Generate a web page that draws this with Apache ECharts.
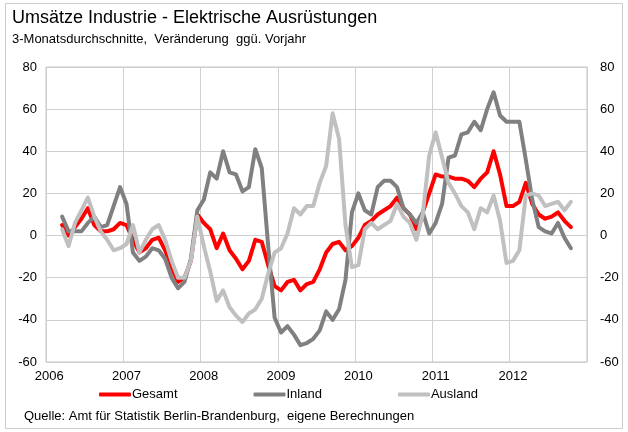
<!DOCTYPE html>
<html>
<head>
<meta charset="utf-8">
<script src="https://cdn.jsdelivr.net/npm/echarts@6/dist/echarts.min.js"></script>
<style>
  html, body { margin: 0; padding: 0; background: #fff; }
  #main { width: 628px; height: 432px; }
</style>
</head>
<body>
<div id="main"></div>
<script>
// Jahre / Monate der x-Achse
var years = ['2006', '2007', '2008', '2009', '2010', '2011', '2012'];
var months = ['01', '02', '03', '04', '05', '06', '07', '08', '09', '10', '11', '12'];
// erster Wert = März 2006 (Index 2), letzter = Oktober 2012
var startIndex = 2;

// Veränderung ggü. Vorjahr in %, 3-Monatsdurchschnitte
var gesamt = [
    5, 0, 4, 8, 13, 5, 2, 2, 3, 6,          // 2006 Mär-Dez
    5, -2, -8, -6, -2, -1, -7, -15, -22, -20, -12, 10,   // 2007
    6, 3, -6, 1, -7, -11, -16, -12, -2, -3, -14, -24,    // 2008
    -26, -22, -21, -26, -23, -22, -16, -8, -4, -3, -7, -5, // 2009
    -1, 5, 7, 10, 12, 14, 18, 13, 10, 3, 11, 20,         // 2010
    29, 28, 28, 27, 27, 26, 23, 27, 30, 40, 29, 14,      // 2011
    14, 16, 25, 15, 10, 8, 9, 11, 7, 4                   // 2012 Jan-Okt
];
var inland = [
    9, 2, 2, 2, 6, 9, 4, 5, 14, 23,
    15, -8, -12, -10, -6, -7, -11, -20, -25, -22, -11, 12,
    17, 30, 27, 40, 30, 29, 21, 23, 41, 32, -5, -39,
    -46, -43, -47, -52, -51, -49, -45, -36, -40, -35, -21, 11,
    20, 12, 10, 23, 26, 26, 23, 13, 10, 6, 11, 1,
    6, 15, 37, 38, 48, 49, 54, 50, 60, 68, 57, 54,
    54, 54, 36, 17, 4, 2, 1, 6, -1, -6
];
var ausland = [
    3, -5, 6, 12, 18, 9, 2, -2, -7, -6,
    -4, 5, -8, -2, 3, 5, -2, -12, -20, -20, -12, 9,
    -5, -17, -31, -26, -34, -38, -41, -37, -35, -30, -18, -8,
    -6, 1, 13, 10, 14, 14, 25, 33, 58, 46, 5, -15,
    -14, 3, 6, 3, 5, 7, 15, 9, 6, -2, 10, 38,
    49, 37, 25, 20, 14, 11, 3, 13, 11, 19, 7, -13,
    -12, -7, 19, 20, 19, 14, 15, 16, 12, 16
];

window.onload = function () {
    drawChart();
};

// Werte auf die 84 Monate der Achse verteilen (vorher/nachher leer)
function pad(arr, total) {
    var out = [];
    for (var i = 0; i < total; i++) {
        var k = i - startIndex;
        out.push(k >= 0 && k < arr.length ? arr[k] : null);
    }
    return out;
}

function drawChart() {
    var categories = [];
    years.forEach(function (y) {
        months.forEach(function (m) { categories.push(y + '-' + m); });
    });

    var font = '"Liberation Sans", Arial, sans-serif';
    var gridColor = '#cfcfcf';

    var myChart = echarts.init(document.getElementById('main'));

    var yAxisBase = {
        type: 'value',
        min: -60,
        max: 80,
        interval: 20,
        axisLine: { show: false },
        axisTick: { show: false },
        splitLine: { show: true, lineStyle: { color: gridColor, width: 1 } },
        axisLabel: { color: '#000', fontFamily: font, fontSize: 13 }
    };

    var option = {
        animation: false,
        backgroundColor: '#fff',
        textStyle: { fontFamily: font },
        graphic: [
            {
                type: 'rect',
                shape: { x: 5.5, y: 3.5, width: 617, height: 425 },
                style: { fill: 'none', stroke: '#cccccc', lineWidth: 1 },
                silent: true
            },
            {
                type: 'text', left: 12, top: 9,
                style: { text: 'Umsätze Industrie - Elektrische Ausrüstungen', fill: '#000', font: '18px ' + font }
            },
            {
                type: 'text', left: 12, top: 33,
                style: { text: '3-Monatsdurchschnitte,  Veränderung  ggü. Vorjahr', fill: '#000', font: '13px ' + font }
            },
            {
                type: 'text', left: 24, top: 410,
                style: { text: 'Quelle: Amt für Statistik Berlin-Brandenburg,  eigene Berechnungen', fill: '#000', font: '13px ' + font }
            }
        ],
        grid: {
            left: 46, right: 41, top: 67, bottom: 70,
            show: true,
            borderColor: '#c4c4c4',
            borderWidth: 1
        },
        legend: {
            left: 94,
            top: 383,
            itemWidth: 32,
            itemHeight: 4,
            itemGap: 76,
            icon: 'roundRect',
            textStyle: { color: '#000', fontFamily: font, fontSize: 13, padding: [0, 0, 0, -4] },
            data: ['Gesamt', 'Inland', 'Ausland']
        },
        xAxis: {
            type: 'category',
            data: categories,
            boundaryGap: true,
            axisLine: { show: false },
            axisTick: { show: false },
            axisLabel: {
                color: '#000',
                fontFamily: font,
                fontSize: 13,
                margin: 8,
                interval: function (index) { return index % 12 === 0; },
                formatter: function (value) { return value.slice(0, 4); }
            },
            splitLine: {
                show: true,
                interval: function (index) { return index % 12 === 0; },
                lineStyle: { color: gridColor, width: 1 }
            }
        },
        yAxis: [
            Object.assign({}, yAxisBase, { position: 'left', axisLabel: Object.assign({}, yAxisBase.axisLabel, { margin: 9 }) }),
            Object.assign({}, yAxisBase, { position: 'right', splitLine: { show: false }, axisLabel: Object.assign({}, yAxisBase.axisLabel, { margin: 13 }) })
        ],
        series: [
            {
                name: 'Gesamt', type: 'line', data: pad(gesamt, categories.length),
                symbol: 'none', color: '#ff0000',
                lineStyle: { width: 4, color: '#ff0000', join: 'round', cap: 'round' }
            },
            {
                name: 'Inland', type: 'line', data: pad(inland, categories.length),
                symbol: 'none', color: '#808080',
                lineStyle: { width: 4, color: '#808080', join: 'round', cap: 'round' }
            },
            {
                name: 'Ausland', type: 'line', data: pad(ausland, categories.length),
                symbol: 'none', color: '#c0c0c0',
                lineStyle: { width: 4, color: '#c0c0c0', join: 'round', cap: 'round' }
            }
        ]
    };

    myChart.setOption(option);
}
</script>
</body>
</html>
